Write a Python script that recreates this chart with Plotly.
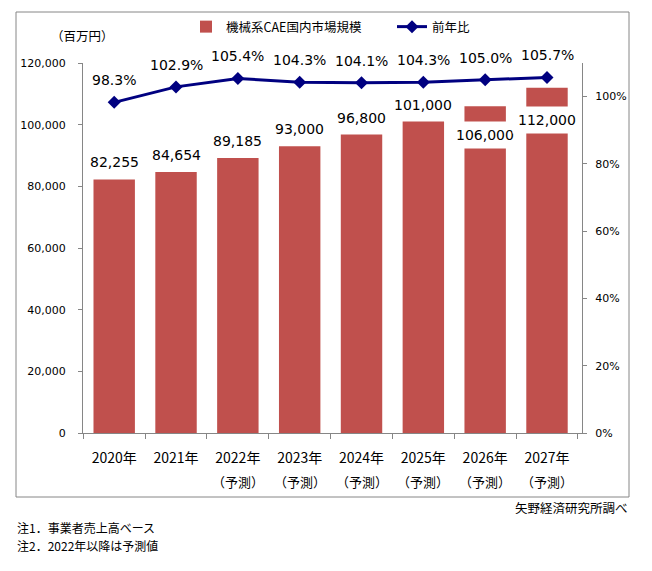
import plotly.graph_objects as go

years = ["2020年", "2021年", "2022年", "2023年", "2024年", "2025年", "2026年", "2027年"]
forecast = ["", "", "（予測）", "（予測）", "（予測）", "（予測）", "（予測）", "（予測）"]
market = [82255, 84654, 89185, 93000, 96800, 101000, 106000, 112000]
yoy = [98.3, 102.9, 105.4, 104.3, 104.1, 104.3, 105.0, 105.7]
left_ticks = [0, 20000, 40000, 60000, 80000, 100000, 120000]
right_ticks = [0, 20, 40, 60, 80, 100]

NUM_FONT = "DejaVu Sans, Verdana, sans-serif"
JP_FONT = "Noto Sans CJK JP, sans-serif"
BAR_COLOR = "#C0504D"
LINE_COLOR = "#000080"
AXIS_COLOR = "#868686"

# page offset (browser default body margin)
OFF = 8
PL, PR, PT, PB = 83, 582, 63, 433  # plot area in window pixels
PW, PH = PR - PL, PB - PT


def px(x):
    return (x - PL) / PW


def py(y):
    return (PB - y) / PH


# label styling (pixel offsets relative to bar top)
bar_label_shift = [17, 17, 17, 17, 17, 17, -29, -32]
bar_label_bg = [None] * 6 + ["white", "white"]

fig = go.Figure()
fig.add_trace(go.Bar(
    x=years, y=market, name="機械系CAE国内市場規模",
    marker=dict(color=BAR_COLOR, line=dict(width=0)),
    width=0.67, yaxis="y",
))
fig.add_trace(go.Scatter(
    x=years, y=yoy, name="前年比", mode="lines+markers",
    line=dict(color=LINE_COLOR, width=3),
    marker=dict(symbol="diamond", size=10, color=LINE_COLOR),
    yaxis="y2",
))

ann = []
for i, (yr, v) in enumerate(zip(years, market)):
    a = dict(x=yr, y=v, xref="x", yref="y", text=f"{v:,}", showarrow=False,
             yshift=bar_label_shift[i], yanchor="middle",
             font=dict(family=NUM_FONT, size=14, color="#000000"))
    if bar_label_bg[i]:
        a.update(bgcolor=bar_label_bg[i], borderpad=5)
    ann.append(a)
for yr, v in zip(years, yoy):
    ann.append(dict(x=yr, y=v, xref="x", yref="y2", text=f"{v:.1f}%", showarrow=False,
                    yshift=22, yanchor="middle",
                    font=dict(family=NUM_FONT, size=14, color="#000000")))
for yr, f in zip(years, forecast):
    if f:
        ann.append(dict(x=yr, y=py(481), xref="x", yref="paper", text=f, showarrow=False,
                        yanchor="middle",
                        font=dict(family=JP_FONT, size=13, color="#000000")))

ann.append(dict(x=px(82), y=py(35), xref="paper", yref="paper", text="（百万円）",
                showarrow=False, xanchor="center", yanchor="middle",
                font=dict(family=JP_FONT, size=12.5, color="#000000")))
ann.append(dict(x=px(630), y=py(507), xref="paper", yref="paper",
                text="矢野経済研究所調べ", showarrow=False, xanchor="right", yanchor="middle",
                font=dict(family=JP_FONT, size=12.5, color="#000000")))
ann.append(dict(x=px(16), y=py(527), xref="paper", yref="paper",
                text="注1．事業者売上高ベース", showarrow=False, xanchor="left", yanchor="middle",
                font=dict(family=JP_FONT, size=12, color="#000000"), borderpad=0))
ann.append(dict(x=px(16), y=py(545), xref="paper", yref="paper",
                text="注2．2022年以降は予測値", showarrow=False, xanchor="left", yanchor="middle",
                font=dict(family=JP_FONT, size=12, color="#000000"), borderpad=0))

bx0, bx1, by0, by1 = px(16), px(629), py(497), py(12)
border = dict(color=AXIS_COLOR, width=1)
shapes = [
    dict(type="line", xref="paper", yref="paper", x0=bx0, x1=bx1, y0=by0, y1=by0, line=border),
    dict(type="line", xref="paper", yref="paper", x0=bx0, x1=bx1, y0=by1, y1=by1, line=border),
    dict(type="line", xref="paper", yref="paper", x0=bx0, x1=bx0, y0=by0, y1=by1, line=border),
    dict(type="line", xref="paper", yref="paper", x0=bx1, x1=bx1, y0=by0, y1=by1, line=border),
]

fig.update_layout(
    width=652, height=571,
    margin=dict(l=PL - OFF, r=652 - (PR - OFF), t=PT - OFF, b=571 - (PB - OFF), autoexpand=False),
    paper_bgcolor="white", plot_bgcolor="white",
    showlegend=True,
    legend=dict(orientation="h", x=px(186), y=py(27),
                xanchor="left", yanchor="middle",
                font=dict(family=JP_FONT, size=12.5, color="#000000"),
                bgcolor="rgba(0,0,0,0)", entrywidth=161, entrywidthmode="pixels"),
    xaxis=dict(type="category", showline=True, linecolor=AXIS_COLOR, linewidth=1,
               ticks="outside", tickson="boundaries", ticklen=5, tickcolor=AXIS_COLOR,
               ticklabelstandoff=12,
               tickfont=dict(family=JP_FONT, size=14, color="#000000"),
               showgrid=False, zeroline=False),
    yaxis=dict(range=[0, 120000], tickvals=left_ticks, tickformat=",",
               showline=True, linecolor=AXIS_COLOR, linewidth=1,
               ticks="outside", ticklen=4, tickcolor=AXIS_COLOR,
               ticklabelstandoff=10,
               tickfont=dict(family=NUM_FONT, size=11, color="#000000"),
               showgrid=False, zeroline=False),
    yaxis2=dict(range=[0, 110], tickmode="array", tickvals=right_ticks,
                ticktext=[f"{v}%" for v in right_ticks], overlaying="y",
                side="right", showline=True, linecolor=AXIS_COLOR, linewidth=1,
                ticks="outside", ticklen=4, tickcolor=AXIS_COLOR,
                ticklabelstandoff=6,
                tickfont=dict(family=NUM_FONT, size=11, color="#000000"),
                showgrid=False, zeroline=False),
    annotations=ann,
    shapes=shapes,
)

fig.write_html("out.html")
